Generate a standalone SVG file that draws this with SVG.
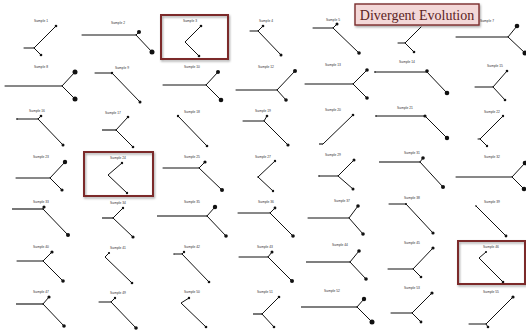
<svg xmlns="http://www.w3.org/2000/svg" width="526" height="331" viewBox="0 0 526 331">
  <defs>
    <filter id="shadow" x="-10%" y="-10%" width="125%" height="135%">
      <feDropShadow dx="1" dy="1.5" stdDeviation="1" flood-color="#000" flood-opacity="0.35"/>
    </filter>
    <style>
      .lbl { font-family: "Liberation Sans", Arial, sans-serif; font-size: 3.3px; fill: #333; text-anchor: middle; }
      .ln { fill: none; stroke: #111; stroke-width: 1; stroke-linecap: round; stroke-linejoin: round; }
      .gl { fill: none; stroke: #555; stroke-width: 1.6; }
      .dot { fill: #111; }
      .hl { fill: none; stroke: #7b2c2c; stroke-width: 2; filter: url(#shadow); }
      .title-box { fill: #f3d8d8; stroke: #7b2c2c; stroke-width: 1.4; filter: url(#shadow); }
      .title { font-family: "Liberation Serif", "Times New Roman", serif; font-size: 14px; fill: #5c2424; text-anchor: middle; }
    </style>
  </defs>
  <rect width="526" height="331" fill="#fff"/>

  <!-- row 1 -->
  <g id="s1"><text class="lbl" x="41" y="22">Sample 1</text>
    <path class="ln" d="M24,48H34L56,26M34,48L41,55"/>
    <circle class="dot" cx="56" cy="26" r="1.3"/><circle class="dot" cx="41" cy="55" r="1.3"/></g>
  <g id="s2"><text class="lbl" x="118" y="24">Sample 2</text>
    <path class="ln" d="M82,35H136L139,32M136,35L152,52"/>
    <circle class="dot" cx="139" cy="32" r="2"/><circle class="dot" cx="152" cy="52" r="2.5"/></g>
  <g id="s3"><rect class="hl" x="161" y="15" width="67" height="44"/>
    <text class="lbl" x="190" y="22">Sample 3</text>
    <path class="ln" d="M201,26L185,42L199,56"/>
    <circle class="dot" cx="201" cy="26" r="1.3"/><circle class="dot" cx="199" cy="56" r="1.3"/></g>
  <g id="s4"><text class="lbl" x="266" y="22">Sample 4</text>
    <path class="ln" d="M250,31H258L263,26M258,31L281,55"/>
    <circle class="dot" cx="263" cy="26" r="1.3"/><circle class="dot" cx="281" cy="55" r="1.5"/></g>
  <g id="s5"><text class="lbl" x="333" y="21">Sample 5</text>
    <path class="ln" d="M313,28H333L337,24M333,28L359,53"/>
    <circle class="dot" cx="337" cy="24" r="1.5"/><circle class="dot" cx="359" cy="53" r="1.8"/></g>
  <g id="s6">
    <path class="ln" d="M398,43H405L421,27M405,43L414,52"/>
    <circle class="dot" cx="414" cy="52" r="1.3"/></g>
  <g id="s7"><text class="lbl" x="487" y="22">Sample 7</text>
    <path class="ln" d="M456,37H508L517,26M508,37L525,53"/>
    <circle class="dot" cx="517" cy="26" r="2.3"/><circle class="dot" cx="525" cy="53" r="2.5"/></g>

  <!-- row 2 -->
  <g id="s8"><text class="lbl" x="41" y="68">Sample 8</text>
    <path class="ln" d="M5,86H62L75,72M62,86L75,99"/>
    <circle class="dot" cx="75" cy="72" r="2.5"/><circle class="dot" cx="75" cy="99" r="2.5"/></g>
  <g id="s9"><text class="lbl" x="122" y="69">Sample 9</text>
    <path class="ln" d="M95,73H112L140,102"/>
    <circle class="dot" cx="112" cy="73" r="1.2"/><circle class="dot" cx="140" cy="102" r="1.5"/></g>
  <g id="s10"><text class="lbl" x="192" y="68">Sample 10</text>
    <path class="ln" d="M163,85H206L218,72M206,85L221,100"/>
    <circle class="dot" cx="218" cy="72" r="2"/><circle class="dot" cx="221" cy="100" r="2.3"/></g>
  <g id="s12"><text class="lbl" x="266" y="68">Sample 12</text>
    <path class="ln" d="M236,90H277L295,71M277,90L286,100"/>
    <circle class="dot" cx="295" cy="71" r="2"/><circle class="dot" cx="286" cy="100" r="1.8"/></g>
  <g id="s13"><text class="lbl" x="333" y="66">Sample 13</text>
    <path class="ln" d="M305,84H353L367,70M353,84L367,98"/>
    <circle class="dot" cx="367" cy="70" r="1.8"/><circle class="dot" cx="367" cy="98" r="1.8"/></g>
  <g id="s14"><text class="lbl" x="407" y="63">Sample 14</text>
    <path class="ln" d="M375,72H427L447,93"/>
    <circle class="dot" cx="375" cy="72" r="0.8"/><circle class="dot" cx="427" cy="71" r="1.8"/><circle class="dot" cx="447" cy="93" r="2.3"/></g>
  <g id="s15"><text class="lbl" x="495" y="67">Sample 15</text>
    <path class="ln" d="M475,87H493L507,71M493,87L505,100"/>
    <circle class="dot" cx="507" cy="71" r="1.3"/><circle class="dot" cx="505" cy="100" r="1.3"/></g>

  <!-- row 3 -->
  <g id="s16"><text class="lbl" x="37" y="112">Sample 16</text>
    <path class="ln" d="M17,119H38L41,116M38,119L63,145"/>
    <circle class="dot" cx="17" cy="119" r="0.8"/><circle class="dot" cx="41" cy="116" r="1.3"/><circle class="dot" cx="63" cy="145" r="1.5"/></g>
  <g id="s17"><text class="lbl" x="113" y="114">Sample 17</text>
    <path class="gl" d="M102,130H116"/>
    <path class="ln" d="M116,130L128,117M116,130L133,147"/>
    <circle class="dot" cx="128" cy="117" r="1.3"/><circle class="dot" cx="133" cy="147" r="1.3"/></g>
  <g id="s18"><text class="lbl" x="192" y="113">Sample 18</text>
    <path class="ln" d="M178,116L207,146"/>
    <circle class="dot" cx="178" cy="116" r="1.2"/><circle class="dot" cx="207" cy="146" r="1.3"/></g>
  <g id="s19"><text class="lbl" x="263" y="112">Sample 19</text>
    <path class="ln" d="M243,121H264L267,116M264,121L288,145"/>
    <circle class="dot" cx="267" cy="116" r="1.3"/><circle class="dot" cx="288" cy="145" r="1.6"/></g>
  <g id="s20"><text class="lbl" x="333" y="111">Sample 20</text>
    <path class="gl" d="M319,144H323"/>
    <path class="ln" d="M323,144L353,115"/>
    <circle class="dot" cx="353" cy="115" r="1.3"/></g>
  <g id="s21"><text class="lbl" x="405" y="109">Sample 21</text>
    <path class="ln" d="M376,116H425L447,138"/>
    <circle class="dot" cx="376" cy="116" r="0.8"/><circle class="dot" cx="425" cy="116" r="1.6"/><circle class="dot" cx="447" cy="138" r="2.2"/></g>
  <g id="s22"><text class="lbl" x="492" y="113">Sample 22</text>
    <path class="ln" d="M503,116L480,139H478M480,139L487,146"/>
    <circle class="dot" cx="503" cy="116" r="1.2"/><circle class="dot" cx="487" cy="146" r="1.2"/></g>

  <!-- row 4 -->
  <g id="s23"><text class="lbl" x="41" y="158">Sample 23</text>
    <path class="ln" d="M16,178H50L65,162M50,178L62,190"/>
    <circle class="dot" cx="65" cy="162" r="2.2"/><circle class="dot" cx="62" cy="190" r="1.6"/></g>
  <g id="s24"><rect class="hl" x="84" y="152" width="69" height="44"/>
    <text class="lbl" x="118" y="159">Sample 24</text>
    <path class="ln" d="M122,163L108,175L127,193"/>
    <circle class="dot" cx="122" cy="163" r="1.2"/><circle class="dot" cx="127" cy="193" r="1.2"/></g>
  <g id="s25"><text class="lbl" x="192" y="158">Sample 25</text>
    <path class="ln" d="M163,168H199L205,162M199,168L222,190"/>
    <circle class="dot" cx="205" cy="162" r="1.6"/><circle class="dot" cx="222" cy="190" r="2"/></g>
  <g id="s27"><text class="lbl" x="263" y="158">Sample 27</text>
    <path class="ln" d="M275,161L258,177L273,191"/>
    <circle class="dot" cx="275" cy="161" r="1.2"/><circle class="dot" cx="258" cy="177" r="0.8"/><circle class="dot" cx="273" cy="191" r="1.2"/></g>
  <g id="s29"><text class="lbl" x="333" y="156">Sample 29</text>
    <path class="ln" d="M319,176H338L354,160M338,176L353,189"/>
    <circle class="dot" cx="319" cy="176" r="0.7"/><circle class="dot" cx="354" cy="160" r="1.5"/><circle class="dot" cx="353" cy="189" r="1.5"/></g>
  <g id="s31"><text class="lbl" x="412" y="154">Sample 31</text>
    <path class="gl" d="M379,162H420"/>
    <path class="ln" d="M420,162L423,158M420,162L443,187"/>
    <circle class="dot" cx="423" cy="158" r="1.8"/><circle class="dot" cx="443" cy="187" r="2"/></g>
  <g id="s32"><text class="lbl" x="492" y="158">Sample 32</text>
    <path class="ln" d="M456,177H512L525,163M512,177L524,189"/>
    <circle class="dot" cx="525" cy="163" r="2.3"/><circle class="dot" cx="524" cy="189" r="2.3"/></g>

  <!-- row 5 -->
  <g id="s33"><text class="lbl" x="41" y="203">Sample 33</text>
    <path class="gl" d="M12,209H43"/>
    <path class="ln" d="M43,209L44,207M43,209L68,235"/>
    <circle class="dot" cx="44" cy="207" r="1.6"/><circle class="dot" cx="68" cy="235" r="2"/></g>
  <g id="s34"><text class="lbl" x="118" y="204">Sample 34</text>
    <path class="gl" d="M102,218H113"/>
    <path class="ln" d="M113,218L123,208M113,218L133,237"/>
    <circle class="dot" cx="123" cy="208" r="1.2"/><circle class="dot" cx="133" cy="237" r="1.6"/></g>
  <g id="s35"><text class="lbl" x="192" y="203">Sample 35</text>
    <path class="gl" d="M157,216H207"/>
    <path class="ln" d="M207,216L215,207M207,216L226,236"/>
    <circle class="dot" cx="215" cy="207" r="2.2"/><circle class="dot" cx="226" cy="236" r="1.8"/></g>
  <g id="s36"><text class="lbl" x="266" y="203">Sample 36</text>
    <path class="ln" d="M238,213H270L275,208M270,213L293,236"/>
    <circle class="dot" cx="275" cy="208" r="1.4"/><circle class="dot" cx="293" cy="236" r="1.8"/></g>
  <g id="s37"><text class="lbl" x="342" y="202">Sample 37</text>
    <path class="ln" d="M308,218H349L358,206M349,218L363,234"/>
    <circle class="dot" cx="358" cy="206" r="1.8"/><circle class="dot" cx="363" cy="234" r="1.8"/></g>
  <g id="s38"><text class="lbl" x="412" y="199">Sample 38</text>
    <path class="ln" d="M389,204H406L433,233"/>
    <circle class="dot" cx="406" cy="204" r="1"/><circle class="dot" cx="433" cy="233" r="1.6"/></g>
  <g id="s39"><text class="lbl" x="492" y="203">Sample 39</text>
    <path class="ln" d="M476,206L506,236"/>
    <circle class="dot" cx="476" cy="206" r="0.8"/><circle class="dot" cx="506" cy="236" r="1.4"/></g>

  <!-- row 6 -->
  <g id="s40"><text class="lbl" x="41" y="248">Sample 40</text>
    <path class="ln" d="M17,261H43L52,252M43,261L63,281"/>
    <circle class="dot" cx="52" cy="252" r="1.6"/><circle class="dot" cx="63" cy="281" r="1.8"/></g>
  <g id="s41"><text class="lbl" x="118" y="249">Sample 41</text>
    <path class="ln" d="M109,253L105,257L132,283"/>
    <circle class="dot" cx="109" cy="253" r="1.1"/><circle class="dot" cx="132" cy="283" r="1.3"/></g>
  <g id="s42"><text class="lbl" x="192" y="248">Sample 42</text>
    <path class="ln" d="M174,254H182L184,252M182,254L209,282"/>
    <circle class="dot" cx="174" cy="254" r="0.6"/><circle class="dot" cx="184" cy="252" r="1.2"/><circle class="dot" cx="209" cy="282" r="1.3"/></g>
  <g id="s43"><text class="lbl" x="265" y="248">Sample 43</text>
    <path class="ln" d="M239,257H268L272,252M268,257L292,281"/>
    <circle class="dot" cx="272" cy="252" r="1.5"/><circle class="dot" cx="292" cy="281" r="2"/></g>
  <g id="s44"><text class="lbl" x="340" y="246">Sample 44</text>
    <path class="gl" d="M306,262H350"/>
    <path class="ln" d="M350,262L359,251M350,262L366,279"/>
    <circle class="dot" cx="359" cy="251" r="1.8"/><circle class="dot" cx="366" cy="279" r="1.8"/></g>
  <g id="s45"><text class="lbl" x="412" y="244">Sample 45</text>
    <path class="ln" d="M388,269H413L433,248M413,269L421,277"/>
    <circle class="dot" cx="433" cy="248" r="1.6"/><circle class="dot" cx="421" cy="277" r="1.3"/></g>
  <g id="s46"><rect class="hl" x="458" y="241" width="67" height="43"/>
    <text class="lbl" x="491" y="248">Sample 46</text>
    <path class="ln" d="M486,252L479,258L503,282"/>
    <circle class="dot" cx="486" cy="252" r="1"/><circle class="dot" cx="503" cy="282" r="1.3"/></g>

  <!-- row 7 -->
  <g id="s47"><text class="lbl" x="41" y="293">Sample 47</text>
    <path class="gl" d="M16,304H43"/>
    <path class="ln" d="M43,304L49,297M43,304L64,326"/>
    <circle class="dot" cx="49" cy="297" r="1.6"/><circle class="dot" cx="64" cy="326" r="1.8"/></g>
  <g id="s49"><text class="lbl" x="118" y="294">Sample 49</text>
    <path class="ln" d="M99,302H111L115,298M111,302L136,328"/>
    <circle class="dot" cx="115" cy="298" r="1.2"/><circle class="dot" cx="136" cy="328" r="1.8"/></g>
  <g id="s50"><text class="lbl" x="192" y="293">Sample 50</text>
    <path class="ln" d="M189,298L181,303L206,327"/>
    <circle class="dot" cx="189" cy="298" r="1.2"/><circle class="dot" cx="206" cy="327" r="1.3"/></g>
  <g id="s51"><text class="lbl" x="265" y="293">Sample 51</text>
    <path class="gl" d="M253,314H262"/>
    <path class="ln" d="M262,314L279,297M262,314L274,327"/>
    <circle class="dot" cx="279" cy="297" r="1.3"/><circle class="dot" cx="274" cy="327" r="1.3"/></g>
  <g id="s52"><text class="lbl" x="332" y="292">Sample 52</text>
    <path class="gl" d="M301,307H357"/>
    <path class="ln" d="M357,307L364,299M357,307L372,322"/>
    <circle class="dot" cx="364" cy="299" r="2.2"/><circle class="dot" cx="372" cy="322" r="2.5"/></g>
  <g id="s53"><text class="lbl" x="412" y="289">Sample 53</text>
    <path class="ln" d="M391,313H412L432,293M412,313L421,322"/>
    <circle class="dot" cx="432" cy="293" r="1.6"/><circle class="dot" cx="421" cy="322" r="1.4"/></g>
  <g id="s55"><text class="lbl" x="491" y="293">Sample 55</text>
    <path class="ln" d="M469,324H486L513,297M486,324L488,327"/>
    <circle class="dot" cx="513" cy="297" r="1.6"/><circle class="dot" cx="488" cy="327" r="1.3"/></g>

  <!-- title callout, drawn last so it sits over the sample beneath it -->
  <g id="title">
    <rect class="title-box" x="355" y="4" width="124" height="21"/>
    <text class="title" x="417" y="20">Divergent Evolution</text>
  </g>

  <g id="connectors"/>
</svg>
